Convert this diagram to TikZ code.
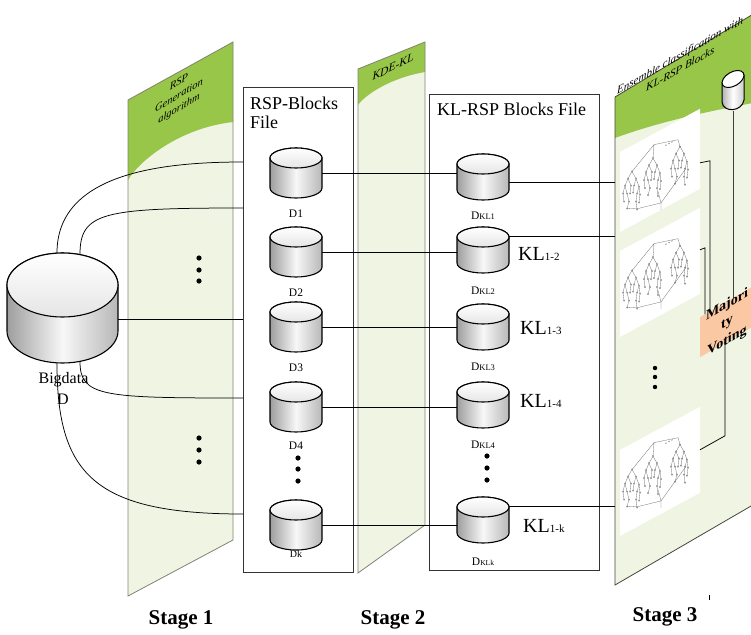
\documentclass[tikz,border=0pt]{standalone}
\usepackage{fontspec}
\setmainfont{Liberation Serif}
\usetikzlibrary{calc}

\definecolor{panelgreen}{RGB}{152,198,72}
\definecolor{panelcream}{RGB}{240,244,226}
\definecolor{paneledge}{RGB}{130,130,118}
\definecolor{paneldark}{RGB}{70,70,60}
\definecolor{votefill}{RGB}{250,200,162}

% database icon: name, centre x, centre y, half width, half height, end radius
\newcommand\dbcyl[6]{%
  \node[inner sep=0pt, minimum width={2*#4pt}, minimum height={2*#5pt}] (#1) at (#2,#3) {};
  \path[dbbody] (#2-#4,#3-#5+#6) -- (#2-#4,#3+#5-#6)
    arc[start angle=180, end angle=360, x radius=#4pt, y radius=#6pt]
    -- (#2+#4,#3-#5+#6)
    arc[start angle=0, end angle=180, x radius=#4pt, y radius=#6pt] -- cycle;
  \path[dbtop] (#2,#3-#5+#6) ellipse[x radius=#4pt, y radius=#6pt];
}

% one ensemble picture (three small trees joined together), local units
\newcommand\ensembleimg[1]{%
  \fill[white] (0,0) rectangle (80,#1);
  \pic at (12,26) {minitree};
  \pic at (33,24) {minitree};
  \pic at (60,27) {minitree};
  \draw[treeline] (12,26) -- (34,11) -- (33,24) (34,11) -- (58,19) -- (60,27)
    (66,52) -- (41,73) -- (17,66) -- (7,60) (38,60) -- (41,73) -- (41,80);
  \foreach \u in {46,49,52} \fill[black!70] (\u,18) circle[radius=0.6pt];
}

\begin{document}
\begin{tikzpicture}[x=1pt, y=-1pt,
  link/.style={draw=black, line width=0.75pt},
  filebox/.style={draw=black!80, line width=0.9pt, fill=white, inner sep=0pt},
  dbbody/.style={draw=black, line width=1.1pt, left color=black!38, right color=black!28, middle color=black!3},
  dbtop/.style={draw=black, line width=1.1pt, top color=white, bottom color=black!10},
  paneloutline/.style={draw=paneledge, line width=0.8pt},
  lbl/.style={font=\fontsize{11.5}{12}\selectfont, inner sep=0pt, anchor=base},
  kllbl/.style={inner sep=0pt, anchor=base west},
  stagelbl/.style={font=\bfseries\fontsize{21}{24}\selectfont, inner sep=0pt},
  treeline/.style={draw=black!55, line width=0.3pt},
  treenode/.style={draw=black!55, fill=white, line width=0.25pt},
  paneltitle/.style={font=\itshape\fontsize{11}{13}\selectfont, inner sep=0pt, anchor=base west},
  minitree/.pic={
    \draw[treeline] (0,0) -- (-4,7) -- (-7,14) -- (-9,22) -- (-8,30)
      (-4,7) -- (-1,14) -- (-2,22)
      (-7,14) -- (-5,22) -- (-3,30) -- (-5,37)
      (0,0) -- (4,7) -- (2,14) -- (1,21)
      (4,7) -- (7,15) -- (5,22) -- (4,30) -- (5,38)
      (7,15) -- (8,23) -- (7,31);
    \foreach \a/\b in {0/0,-4/7,-7/14,-9/22,-8/30,-1/14,-2/22,-5/22,-3/30,-5/37,4/7,2/14,1/21,7/15,5/22,4/30,5/38,8/23,7/31}
      \path[treenode] (\a,\b) circle[radius=0.8pt];
  },
]
\useasboundingbox (0,0) rectangle (751,634);
\clip (0,0) rectangle (751,634);

% ---------- stage 1 panel ----------
\fill[panelcream] (128,100) -- (233,42) -- (233,540) -- (128,596) -- cycle;
\fill[panelgreen] (128,100) -- (233,42) -- (233,122) .. controls (180,128) and (140,160) .. (128,180) -- cycle;
\draw[paneloutline] (128,100) -- (233,42) -- (233,540) -- (128,596) -- cycle;
\node[font=\itshape\fontsize{10.5}{13}\selectfont, align=center, yslant=0.6, inner sep=0pt] (s1title) at (179,96) {RSP\\Generation\\algorithm};
\foreach \y in {258,270,281,438,450,462} \fill (199,\y) circle[radius=2.6pt];

% ---------- stage 2 panel ----------
\fill[panelcream] (358,69) -- (425,42) -- (425,525) -- (358,573) -- cycle;
\fill[panelgreen] (358,69) -- (425,42) -- (425,72) .. controls (390,78) and (365,95) .. (358,105) -- cycle;
\draw[paneloutline] (358,69) -- (425,42) -- (425,525) -- (358,573) -- cycle;
\node[font=\itshape\fontsize{11.5}{12}\selectfont, yslant=0.5, inner sep=0pt] (s2title) at (393,67) {KDE-KL};

% ---------- block files ----------
\node[filebox, minimum width=110pt, minimum height=485pt, anchor=north west] (rspbox) at (243,87) {};
\node[filebox, minimum width=170pt, minimum height=476pt, anchor=north west] (klbox) at (429,94) {};
\node[anchor=base west, inner sep=0pt, font=\fontsize{18}{20}\selectfont] (rsptitle) at (250,109) {RSP-Blocks};
\node[anchor=base west, inner sep=0pt, font=\fontsize{18}{20}\selectfont] (rspfile) at (250,128) {File};
\node[anchor=base west, inner sep=0pt, font=\fontsize{18}{20}\selectfont] (kltitle) at (437,115) {KL-RSP Blocks File};

% ---------- big data source ----------
\dbcyl{bigdata}{62.5}{308}{55.5}{55}{32}
\node[anchor=base, inner sep=0pt, font=\fontsize{16}{18}\selectfont] (bdname) at (63.5,383) {Bigdata};
\node[anchor=base, inner sep=0pt, font=\fontsize{16}{18}\selectfont] (bdletter) at (63,404) {D};

\draw[link] ($(bigdata.north)+(-5.5,0)$) .. controls +(0,-80) and +(-80,0) .. ($(rspbox.north west)+(0,75)$);
\draw[link] ($(bigdata.north)+(17.5,1.5)$) .. controls +(0,-42) and +(-140,0) .. ($(rspbox.north west)+(0,121)$);
\draw[link] ($(bigdata.east)+(0,11)$) -- ($(rspbox.north west)+(0,232)$);
\draw[link] ($(bigdata.south)+(17.5,-1.5)$) .. controls +(0,35) and +(-140,0) .. ($(rspbox.north west)+(0,311)$);
\draw[link] ($(bigdata.south)+(-5.5,0)$) .. controls +(0,110) and +(-150,0) .. ($(rspbox.north west)+(0,427)$);

% ---------- RSP blocks ----------
\dbcyl{d1}{296}{173}{26}{25}{10}
\dbcyl{d2}{296}{252}{26}{25}{10}
\dbcyl{d3}{296}{327}{26}{25}{10}
\dbcyl{d4}{296}{407}{26}{25}{10}
\dbcyl{dk}{296}{525}{26}{25}{10}
\node[lbl] (ld1) at (296,217) {D1};
\node[lbl] (ld2) at (296,296) {D2};
\node[lbl] (ld3) at (296,371) {D3};
\node[lbl] (ld4) at (296,449) {D4};
\node[lbl, font=\fontsize{10}{10}\selectfont] (ldk) at (296,557) {Dk};
\foreach \y in {458,469,481} \fill (298,\y) circle[radius=2.6pt];

% ---------- KL-RSP blocks ----------
\dbcyl{dkl1}{483}{177}{26}{23}{10}
\dbcyl{dkl2}{483}{250}{26}{23}{10}
\dbcyl{dkl3}{483}{327}{26}{23}{10}
\dbcyl{dkl4}{483}{405}{26}{23}{10}
\dbcyl{dklk}{483}{520}{26}{23}{10}
\node[lbl] (ldkl1) at (483,219) {D{\fontsize{8.5}{9}\selectfont KL1}};
\node[lbl] (ldkl2) at (483,294) {D{\fontsize{8.5}{9}\selectfont KL2}};
\node[lbl] (ldkl3) at (483,370) {D{\fontsize{8.5}{9}\selectfont KL3}};
\node[lbl] (ldkl4) at (483,448) {D{\fontsize{8.5}{9}\selectfont KL4}};
\node[lbl] (ldklk) at (483,565) {D{\fontsize{7.5}{8}\selectfont KLk}};
\foreach \y in {456,468,480} \fill (487,\y) circle[radius=2.6pt];

\node[kllbl] (kl12) at (518,260) {\fontsize{20}{20}\selectfont KL{\fontsize{11}{12}\selectfont 1-2}};
\node[kllbl] (kl13) at (520,334) {\fontsize{20}{20}\selectfont KL{\fontsize{11}{12}\selectfont 1-3}};
\node[kllbl] (kl14) at (520,407) {\fontsize{20}{20}\selectfont KL{\fontsize{11}{12}\selectfont 1-4}};
\node[kllbl] (kl1k) at (523,532) {\fontsize{20}{20}\selectfont KL{\fontsize{11}{12}\selectfont 1-k}};

% block to block links
\foreach \a/\b in {d1/dkl1,d2/dkl2,d3/dkl3,d4/dkl4,dk/dklk}
  \draw[link] (\a.east) -- (\a.east -| \b.west);

% ---------- stage 3 panel ----------
\fill[panelcream] (615,97) -- (770,4) -- (770,495) -- (615,585) -- cycle;
\fill[panelgreen] (615,97) -- (770,4) -- (770,100) .. controls (700,112) and (650,125) .. (615,138) -- cycle;
\draw[draw=paneldark, line width=0.8pt] (615,97) -- (770,4) (770,495) -- (615,585) -- (615,97);
\node[paneltitle, yslant=0.57] (s3title1) at (617,95) {Ensemble classification with};
\node[paneltitle, yslant=0.57] (s3title2) at (646,92) {KL-RSP Blocks};

\coordinate (p3edge) at (615,0);
\draw[link] ($(dkl1.east)+(0,5)$) coordinate (t1) -- (t1 -| p3edge);
\draw[link] ($(dkl2.north east)+(0,10)$) coordinate (t2) -- (t2 -| p3edge);
\draw[link] ($(dklk.north east)+(0,10)$) coordinate (t3) -- (t3 -| p3edge);

\begin{scope}[shift={(620,152)}, yslant=0.54]
  \ensembleimg{80}
  \coordinate (img1) at (80,54);
\end{scope}
\begin{scope}[shift={(620,251)}, yslant=0.54]
  \ensembleimg{86}
  \coordinate (img2) at (80,42);
\end{scope}
\begin{scope}[shift={(620,450)}, yslant=0.54]
  \ensembleimg{86}
  \coordinate (img3) at (80,43);
\end{scope}
\foreach \y in {368,377,387} \fill (655,\y) circle[radius=2.2pt];

% majority voting
\node[fill=votefill, minimum width=70pt, minimum height=40pt, inner sep=0pt, yslant=0.58, anchor=north west] (vote) at (700,317) {};
\coordinate (v1) at (710,311);
\coordinate (v2) at (705,314);
\coordinate (v3) at (733,298);
\coordinate (v4) at (725,342);

% result store
\node[inner sep=0pt, minimum width=22pt, minimum height=42pt] (topdb) at (733,90) {};
\begin{scope}[shift={(733,90)}]
  \path[draw=black, line width=1pt, left color=black!30, right color=black!20, middle color=white]
    (-11,-7.3) -- (-11,12) .. controls (-10,23) and (9,22) .. (11,10) -- (11,-14.7) -- cycle;
  \path[draw=black, line width=1pt, fill=white, rotate around={30:(0,-11)}] (0,-11) ellipse[x radius=12pt, y radius=7pt];
\end{scope}

\draw[link] (img1) -- ++(10,-2) -- (v1);
\draw[link] (img2) -- ++(5,-2) -- (v2);
\draw[link] (img3) -- ++(25,-14) -- (v4);
\draw[link, draw=black!75] (topdb.south) -- (v3);

\node[yslant=0.58, align=center, inner sep=0pt, font=\bfseries\fontsize{14}{18}\selectfont] (votetxt) at (727,323) {Majori\\ty\\Voting};

% ---------- stage captions ----------
\node[stagelbl] (st1) at (181,620) {Stage 1};
\node[stagelbl] (st2) at (393,620) {Stage 2};
\node[stagelbl] (st3) at (665,617) {Stage 3};
\draw[line width=0.6pt] (709,595) -- (709,600);
\end{tikzpicture}
\end{document}
